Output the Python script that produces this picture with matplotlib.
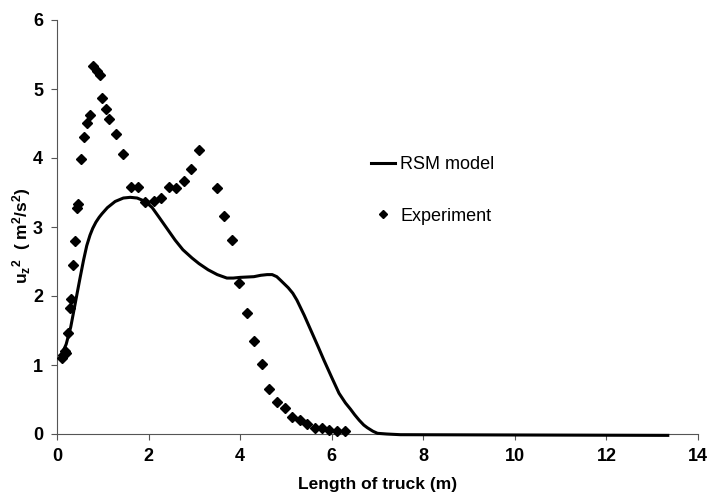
import matplotlib
matplotlib.use("Agg")
import matplotlib.pyplot as plt

plt.rcParams['font.family'] = ['Liberation Sans', 'DejaVu Sans']
plt.rcParams['mathtext.fontset'] = 'custom'
plt.rcParams['mathtext.rm'] = 'Liberation Sans:bold'
plt.rcParams['mathtext.it'] = 'Liberation Sans:bold'
plt.rcParams['mathtext.bf'] = 'Liberation Sans:bold'
plt.rcParams['mathtext.default'] = 'rm'

# Experiment data
exp_x = [0.10, 0.13, 0.17, 0.20, 0.25, 0.28, 0.31, 0.36, 0.40, 0.44, 0.46, 0.53, 0.58,
         0.66, 0.73, 0.79, 0.87, 0.94, 0.99, 1.06, 1.13, 1.29, 1.45, 1.62, 1.77, 1.93,
         2.11, 2.28, 2.45, 2.60, 2.77, 2.93, 3.10, 3.49, 3.65, 3.82, 3.98, 4.15, 4.30,
         4.47, 4.63, 4.81, 4.97, 5.13, 5.30, 5.46, 5.63, 5.79, 5.95, 6.12, 6.28]
exp_y = [1.10, 1.15, 1.20, 1.18, 1.47, 1.82, 1.95, 2.45, 2.80, 3.27, 3.33, 3.99, 4.31,
         4.51, 4.63, 5.33, 5.26, 5.21, 4.87, 4.71, 4.56, 4.35, 4.06, 3.58, 3.58, 3.36,
         3.38, 3.42, 3.58, 3.56, 3.66, 3.84, 4.11, 3.56, 3.16, 2.81, 2.19, 1.75, 1.35,
         1.01, 0.65, 0.47, 0.37, 0.25, 0.20, 0.14, 0.08, 0.09, 0.06, 0.05, 0.04]

# RSM model curve
rsm_x = [0.10, 0.20, 0.30, 0.40, 0.50, 0.58, 0.65, 0.72, 0.78, 0.85, 0.92, 0.98, 1.10,
         1.27, 1.45, 1.60, 1.75, 1.93, 2.08, 2.22, 2.40, 2.58, 2.75, 2.95, 3.10, 3.30,
         3.50, 3.71, 3.85, 4.00, 4.30, 4.45, 4.59, 4.70, 4.80, 4.88, 5.05, 5.15, 5.24,
         5.40, 5.54, 5.70, 5.83, 6.00, 6.16, 6.30, 6.41, 6.50, 6.60, 6.70, 6.78, 6.90,
         7.00, 7.20, 7.50, 13.34]
rsm_y = [1.15, 1.30, 1.55, 1.90, 2.25, 2.52, 2.73, 2.88, 2.98, 3.07, 3.14, 3.19, 3.28,
         3.37, 3.42, 3.43, 3.42, 3.37, 3.28, 3.15, 2.98, 2.81, 2.67, 2.55, 2.47, 2.38,
         2.31, 2.26, 2.26, 2.27, 2.28, 2.30, 2.31, 2.31, 2.28, 2.23, 2.12, 2.04, 1.94,
         1.72, 1.51, 1.27, 1.07, 0.82, 0.59, 0.45, 0.36, 0.28, 0.20, 0.13, 0.09, 0.04,
         0.01, 0.00, -0.01, -0.02]

xticks = [0, 2, 4, 6, 8, 10, 12, 14]
yticks = [0, 1, 2, 3, 4, 5, 6]

fig = plt.figure(figsize=(7.08, 5.0), dpi=100)
ax = fig.add_axes([57/708, 1-434/500, 641/708, 414/500])

ax.plot(rsm_x, rsm_y, color='black', lw=2.2, label='RSM model', clip_on=False,
        solid_joinstyle='round', zorder=3)
ax.plot(exp_x, exp_y, linestyle='none', marker='D', markersize=5.5, color='black',
        label='Experiment', clip_on=False, zorder=4)

ax.set_xlim(0, 14)
ax.set_ylim(0, 6)
ax.set_xticks(xticks)
ax.set_yticks(yticks)
for s in ['top', 'right']:
    ax.spines[s].set_visible(False)
for s in ['left', 'bottom']:
    ax.spines[s].set_color('#555555')
    ax.spines[s].set_linewidth(0.8)
ax.tick_params(direction='out', length=4, width=0.8, color='#555555', labelsize=13, pad=6)
for lab in ax.get_xticklabels() + ax.get_yticklabels():
    lab.set_fontweight('bold')

ax.set_xlabel('Length of truck (m)', fontsize=12.5, fontweight='bold')
ax.set_ylabel(r'u$_z$$^2$  ( m$^2$/s$^2$)', fontsize=12.5, fontweight='bold')
ax.xaxis.set_label_coords(0.5, -0.105)
ax.yaxis.set_label_coords(-0.037, 0.48)

leg = ax.legend(loc='upper left', bbox_to_anchor=(0.465, 0.71), frameon=False,
                fontsize=13, labelspacing=1.9, handlelength=1.3, handletextpad=0.3,
                markerscale=0.75)

fig.savefig('out.png', dpi=100)
